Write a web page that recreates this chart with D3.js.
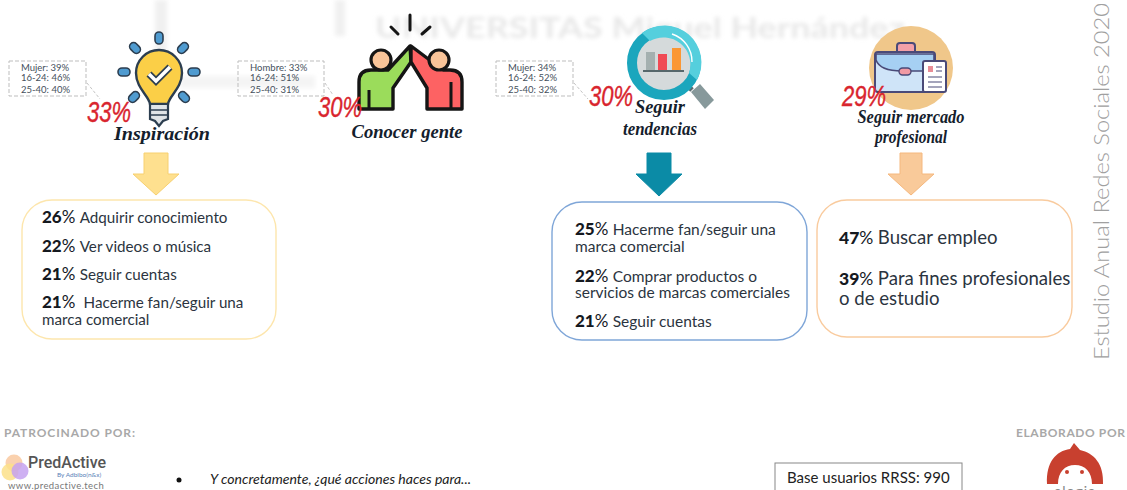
<!DOCTYPE html>
<html>
<script src="https://d3js.org/d3.v7.min.js"></script>

<head>
    <style>
        html,
        body {
            margin: 0;
            padding: 0;
            background-color: #fff;
            overflow: hidden;
        }

        svg {
            display: block;
        }
    </style>
</head>

<body>
</body>
<script>
    const width = 1127,
        height = 490;

    // values
    const reasons = ["Inspiración", "Conocer gente", "Seguir tendencias", "Seguir mercado profesional"];
    const reasonLines = [["Inspiración"], ["Conocer gente"], ["Seguir", "tendencias"], ["Seguir mercado", "profesional"]];
    const reasonShares = [33, 30, 30, 29];

    const demoFirstLabels = ["Mujer", "Hombre", "Mujer"];
    const demoFirstValues = [39, 33, 34];
    const demoYoungValues = [46, 51, 52];
    const demoOlderValues = [40, 31, 32];

    const inspirationValues = [26, 22, 21, 21];
    const inspirationLabels = [["Adquirir conocimiento"], ["Ver videos o música"], ["Seguir cuentas"], [" Hacerme fan/seguir una", "marca comercial"]];
    const trendValues = [25, 22, 21];
    const trendLabels = [["Hacerme fan/seguir una", "marca comercial"], ["Comprar productos o", "servicios de marcas comerciales"], ["Seguir cuentas"]];
    const jobValues = [47, 39];
    const jobLabels = [["Buscar empleo"], ["Para fines profesionales", "o de estudio"]];

    const svg = d3.select("body").append("svg").attr("width", width).attr("height", height);

    const defs = svg.append("defs");
    defs.append("filter").attr("id", "blur").append("feGaussianBlur").attr("stdDeviation", 2.2);

    const bodyFont = "Lato, 'Open Sans', sans-serif";
    const scriptFont = "'Liberation Serif', serif";

    // layout per reason
    const titleX = d3.scaleOrdinal().domain(reasons).range([162, 407, 660, 911]);
    const titleY = d3.scaleOrdinal().domain(reasons).range([140, 138, 113, 123]);
    const titleGap = d3.scaleOrdinal().domain(reasons).range([0, 0, 22, 20]);
    const titleLen = d3.scaleOrdinal().domain(reasons).range([[96], [111], [50, 74], [107, 72]]);
    const shareX = d3.scaleOrdinal().domain(reasons).range([87, 318, 589, 842]);
    const shareY = d3.scaleOrdinal().domain(reasons).range([122, 117, 106, 106]);

    // faint blurred watermark behind the chart
    const mark = svg.append("g").attr("filter", "url(#blur)");
    mark.append("rect").attr("x", 155).attr("y", 0).attr("width", 12).attr("height", 72).attr("fill", "#f0f0f0");
    mark.append("rect").attr("x", 180).attr("y", 76).attr("width", 135).attr("height", 12).attr("fill", "#f4f4f4");
    mark.append("rect").attr("x", 335).attr("y", 0).attr("width", 10).attr("height", 36).attr("fill", "#f0f0f0");
    mark.append("text").attr("x", 375).attr("y", 38).attr("font-family", bodyFont).attr("font-weight", 700)
        .attr("font-size", 29).attr("fill", "#e8e8e8").attr("textLength", 530).attr("lengthAdjust", "spacingAndGlyphs")
        .text("UNIVERSITAS Miguel Hernández");

    drawBulb(svg.append("g"));
    drawHighFive(svg.append("g"));
    drawLens(svg.append("g"));
    drawCase(svg.append("g"));

    // reason titles and share labels
    reasons.forEach((r, i) => {
        svg.append("text")
            .attr("x", shareX(r))
            .attr("y", shareY(r))
            .attr("font-family", "'Liberation Sans Narrow', 'Liberation Sans', sans-serif")
            .attr("font-style", "italic")
            .attr("font-size", 29)
            .attr("fill", "#d9252e")
            .attr("stroke", "#d9252e")
            .attr("stroke-width", 0.4)
            .attr("textLength", 44)
            .attr("lengthAdjust", "spacingAndGlyphs")
            .text(reasonShares[i] + "%");
        reasonLines[i].forEach((line, j) => {
            svg.append("text")
                .attr("x", titleX(r))
                .attr("y", titleY(r) + j * titleGap(r))
                .attr("text-anchor", "middle")
                .attr("font-family", scriptFont)
                .attr("font-style", "italic")
                .attr("font-weight", 700)
                .attr("font-size", 19)
                .attr("fill", "#14202c")
                .attr("textLength", titleLen(r)[j])
                .attr("lengthAdjust", "spacingAndGlyphs")
                .text(line);
        });
    });

    // dashed demographic callouts
    const demoBoxes = [
        { x: 9, w: 77, tx: 21, to: [100, 99] },
        { x: 238, w: 86, tx: 250, to: [333, 95] },
        { x: 496, w: 77, tx: 508, to: [588, 99] }
    ];
    demoFirstLabels.forEach((label, i) => {
        const b = demoBoxes[i];
        const g = svg.append("g");
        g.append("rect")
            .attr("x", b.x).attr("y", 61).attr("width", b.w).attr("height", 35)
            .attr("fill", "none").attr("stroke", "#bdbdbd").attr("stroke-dasharray", "4 2");
        g.append("line")
            .attr("x1", b.x + b.w + 1).attr("y1", 83).attr("x2", b.to[0]).attr("y2", b.to[1])
            .attr("stroke", "#c4c4c4").attr("stroke-dasharray", "3 2");
        const rows = [
            `${label}: ${demoFirstValues[i]}%`,
            `16-24: ${demoYoungValues[i]}%`,
            `25-40: ${demoOlderValues[i]}%`
        ];
        g.selectAll("text")
            .data(rows)
            .join("text")
            .attr("x", b.tx)
            .attr("y", (d, j) => [71, 81, 93][j])
            .attr("font-family", bodyFont)
            .attr("font-size", 9.5)
            .attr("fill", "#45505c")
            .text(d => d);
    });

    // arrows pointing to the detail boxes
    function arrow(cx, halfShaft, halfHead, tip, fill, stroke) {
        const pts = [
            [cx - halfShaft, 153], [cx + halfShaft, 153], [cx + halfShaft, 174], [cx + halfHead, 174],
            [cx, tip], [cx - halfHead, 174], [cx - halfShaft, 174]
        ];
        svg.append("path").attr("d", d3.line()(pts) + "Z").attr("fill", fill).attr("stroke", stroke);
    }
    arrow(156, 12, 23, 195, "#fee08f", "#f7d070");
    arrow(659, 12, 23, 196, "#0b8ba6", "#0b8ba6");
    arrow(911, 11, 23, 195, "#f9ca9a", "#f5b87e");

    // detail boxes
    function detailBox(x, y, w, h, stroke, textX, size, pctSize, rows, values, labels) {
        svg.append("rect")
            .attr("x", x).attr("y", y).attr("width", w).attr("height", h)
            .attr("rx", 30).attr("ry", 30)
            .attr("fill", "#fff").attr("stroke", stroke).attr("stroke-width", 1.4);
        let k = 0;
        values.forEach((v, i) => {
            labels[i].forEach((line, j) => {
                const t = svg.append("text")
                    .attr("x", textX)
                    .attr("y", rows[k++])
                    .attr("font-family", bodyFont)
                    .attr("font-size", size)
                    .attr("fill", "#2b3440")
                    .attr("xml:space", "preserve");
                if (j === 0) {
                    t.append("tspan").attr("font-weight", 900).attr("font-size", pctSize).attr("fill", "#15191f").text(v);
                    t.append("tspan").attr("font-size", pctSize).attr("fill", "#15191f").text("% ");
                }
                t.append("tspan").text(line);
            });
        });
    }
    detailBox(22, 200, 254, 139, "#fde6ad", 42, 15.2, 17, [223, 252, 280, 308, 325], inspirationValues, inspirationLabels);
    detailBox(552, 202, 255, 138, "#7fa6d8", 575, 15.5, 17, [235, 252, 282, 298, 327], trendValues, trendLabels);
    detailBox(817, 200, 255, 137, "#f9cb9e", 839, 18.6, 17.5, [244, 285, 305], jobValues, jobLabels);

    // side title
    svg.append("text")
        .attr("transform", "translate(1109,360) rotate(-90)")
        .attr("font-family", bodyFont)
        .attr("font-weight", 300)
        .attr("font-size", 21)
        .attr("fill", "#a0a0a0")
        .attr("textLength", 357)
        .attr("lengthAdjust", "spacingAndGlyphs")
        .text("Estudio Anual Redes Sociales 2020");

    // footer
    const footer = svg.append("g");
    footer.append("text").attr("x", 4).attr("y", 437).attr("font-family", bodyFont).attr("font-weight", 700)
        .attr("font-size", 12).attr("letter-spacing", 0.9).attr("fill", "#a8a8a8").text("PATROCINADO POR:");
    footer.append("text").attr("x", 1016).attr("y", 437).attr("font-family", bodyFont).attr("font-weight", 700)
        .attr("font-size", 12).attr("letter-spacing", 0.6).attr("fill", "#a8a8a8").text("ELABORADO POR");
    [["#f9c9a0", 14, 463], ["#fbe08a", 10, 472], ["#c6a2f0", 20, 471]].forEach(c => {
        footer.append("circle").attr("cx", c[1]).attr("cy", c[2]).attr("r", 8.5).attr("fill", c[0]).attr("opacity", 0.85);
    });
    footer.append("text").attr("x", 28).attr("y", 468).attr("font-family", "Roboto, sans-serif").attr("font-weight", 500)
        .attr("font-size", 16).attr("fill", "#555").text("PredActive");
    footer.append("text").attr("x", 57).attr("y", 477).attr("font-family", bodyFont)
        .attr("font-size", 6.5).attr("fill", "#5a7fb8").text("By Adbibo(n&x)");
    footer.append("text").attr("x", 8).attr("y", 489).attr("font-family", bodyFont)
        .attr("font-size", 9.5).attr("letter-spacing", 0.4).attr("fill", "#777").text("www.predactive.tech");
    footer.append("circle").attr("cx", 179).attr("cy", 480).attr("r", 2.5).attr("fill", "#111");
    footer.append("text").attr("x", 210).attr("y", 484).attr("font-family", bodyFont).attr("font-style", "italic")
        .attr("font-size", 12.5).attr("fill", "#222").attr("textLength", 261).attr("lengthAdjust", "spacingAndGlyphs")
        .text("Y concretamente, ¿qué acciones haces para...");
    footer.append("rect").attr("x", 775).attr("y", 463).attr("width", 187).attr("height", 40)
        .attr("fill", "#fff").attr("stroke", "#888");
    footer.append("text").attr("x", 787).attr("y", 483).attr("font-family", bodyFont)
        .attr("font-size", 15).attr("fill", "#222").text("Base usuarios RRSS: 990");

    // elogia logo, cut by the lower edge like the source
    footer.append("path")
        .attr("d", "M1047 484 C1046 462 1056 451 1070 449 L1074 443 L1080 450 C1094 453 1104 464 1103 484 L1092 484 C1092 472 1085 465 1075 465 C1065 465 1058 472 1058 484 Z")
        .attr("fill", "#c8402f");
    footer.append("circle").attr("cx", 1067).attr("cy", 472).attr("r", 2).attr("fill", "#c8402f");
    footer.append("circle").attr("cx", 1082).attr("cy", 472).attr("r", 2).attr("fill", "#c8402f");
    footer.append("text").attr("x", 1075).attr("y", 496).attr("text-anchor", "middle").attr("font-family", bodyFont)
        .attr("font-size", 14).attr("letter-spacing", 1).attr("fill", "#888").text("elogia");

    function drawBulb(g) {
        const dark = "#2c3e50";
        [[159, 38, 0], [135, 48, -45], [183, 48, 45], [124, 72, 90], [194, 72, 90], [134, 97, 45], [184, 97, -45]].forEach(r => {
            g.append("rect").attr("x", -4).attr("y", -6).attr("width", 8).attr("height", 12).attr("rx", 4)
                .attr("transform", `translate(${r[0]},${r[1]}) rotate(${r[2]})`)
                .attr("fill", "#4f9bd0").attr("stroke", dark).attr("stroke-width", 1.6);
        });
        g.append("path")
            .attr("d", "M150 104 C149 96 136 88 136 73 A23 23 0 1 1 182 73 C182 88 169 96 168 104 Z")
            .attr("fill", "#fbcf47").attr("stroke", dark).attr("stroke-width", 2.4);
        g.append("path").attr("d", "M149 74 L156 81 L170 67").attr("fill", "none").attr("stroke", dark).attr("stroke-width", 7);
        g.append("path").attr("d", "M149 74 L156 81 L170 67").attr("fill", "none").attr("stroke", "#fff").attr("stroke-width", 3.5);
        g.append("path").attr("d", "M150 104 H168 V119 L163 121 L159 126 L155 121 L150 119 Z")
            .attr("fill", "#dfe4e8").attr("stroke", dark).attr("stroke-width", 2.2);
        g.append("path").attr("d", "M150 110 H168 M150 115 H168").attr("stroke", dark).attr("stroke-width", 1.5);
    }

    function drawHighFive(g) {
        const dark = "#151515";
        g.append("path").attr("d", "M410 15 V30 M391 27 L398 34 M430 27 L422 34")
            .attr("stroke", dark).attr("stroke-width", 3).attr("stroke-linecap", "round");
        g.append("path").attr("d", "M359 109 V82 Q359 70 371 70 H388 L410 46 L411 62 L393 88 V109 Z")
            .attr("fill", "#9bdc5b").attr("stroke", dark).attr("stroke-width", 3.4).attr("stroke-linejoin", "round");
        g.append("path").attr("d", "M462 109 V82 Q462 70 450 70 H443 L411 46 L411 62 L427 88 V109 Z")
            .attr("fill", "#fd6263").attr("stroke", dark).attr("stroke-width", 3.4).attr("stroke-linejoin", "round");
        g.append("circle").attr("cx", 381).attr("cy", 60).attr("r", 10).attr("fill", "#f9c499").attr("stroke", dark).attr("stroke-width", 3.2);
        g.append("circle").attr("cx", 439).attr("cy", 60).attr("r", 10).attr("fill", "#f9c499").attr("stroke", dark).attr("stroke-width", 3.2);
        g.append("path").attr("d", "M369 90 V109 M451 82 V109").attr("stroke", dark).attr("stroke-width", 3);
    }

    function drawLens(g) {
        g.append("path").attr("d", "M686 84 L692 90").attr("stroke", "#5a6b70").attr("stroke-width", 5);
        g.append("path").attr("d", "M691 92 L700 84 L714 100 L705 109 Z").attr("fill", "#87999b");
        g.append("circle").attr("cx", 664).attr("cy", 63).attr("r", 32).attr("fill", "#d5dadb").attr("stroke", "#1ba6bd").attr("stroke-width", 10);
        g.append("path").attr("d", "M642 33 A37 37 0 0 1 697 80 L689 73 A27 27 0 0 0 650 41 Z").attr("fill", "#55cfdd");
        g.append("path").attr("d", "M672 34 A29 29 0 0 1 692 62").attr("fill", "none").attr("stroke", "#fff").attr("stroke-width", 1.4);
        g.append("rect").attr("x", 646).attr("y", 52).attr("width", 9).attr("height", 18).attr("fill", "#a4b0b0");
        g.append("rect").attr("x", 658).attr("y", 54).attr("width", 9).attr("height", 16).attr("fill", "#f04a55");
        g.append("rect").attr("x", 672).attr("y", 48).attr("width", 9).attr("height", 22).attr("fill", "#fb9733");
        g.append("rect").attr("x", 643).attr("y", 70).attr("width", 41).attr("height", 2).attr("fill", "#56676b");
    }

    function drawCase(g) {
        const dark = "#4a4a78";
        g.append("circle").attr("cx", 911).attr("cy", 68).attr("r", 42).attr("fill", "#f0c78a");
        g.append("rect").attr("x", 897).attr("y", 43).attr("width", 18).attr("height", 12).attr("rx", 3)
            .attr("fill", "#f3a0a8").attr("stroke", dark).attr("stroke-width", 2);
        g.append("rect").attr("x", 875).attr("y", 52).attr("width", 60).attr("height", 40).attr("rx", 3)
            .attr("fill", "#cfe4f8").attr("stroke", dark).attr("stroke-width", 2);
        g.append("path").attr("d", "M876 60 Q880 71 902 71 H934 V54 H876 Z").attr("fill", "#a6d0f3").attr("stroke", dark).attr("stroke-width", 1.6);
        g.append("rect").attr("x", 899).attr("y", 68).attr("width", 12).attr("height", 7).attr("rx", 3.5)
            .attr("fill", "#f09aa4").attr("stroke", dark).attr("stroke-width", 1.4);
        g.append("rect").attr("x", 923).attr("y", 61).attr("width", 23).attr("height", 31).attr("rx", 2)
            .attr("fill", "#fff").attr("stroke", dark).attr("stroke-width", 2);
        g.append("rect").attr("x", 928).attr("y", 66).attr("width", 5).attr("height", 6).attr("fill", "#e88d96");
        g.append("path").attr("d", "M936 67 H942 M936 71 H942 M928 77 H942 M928 82 H942 M928 87 H942").attr("stroke", dark).attr("stroke-width", 1.2);
    }
</script>

</html>
